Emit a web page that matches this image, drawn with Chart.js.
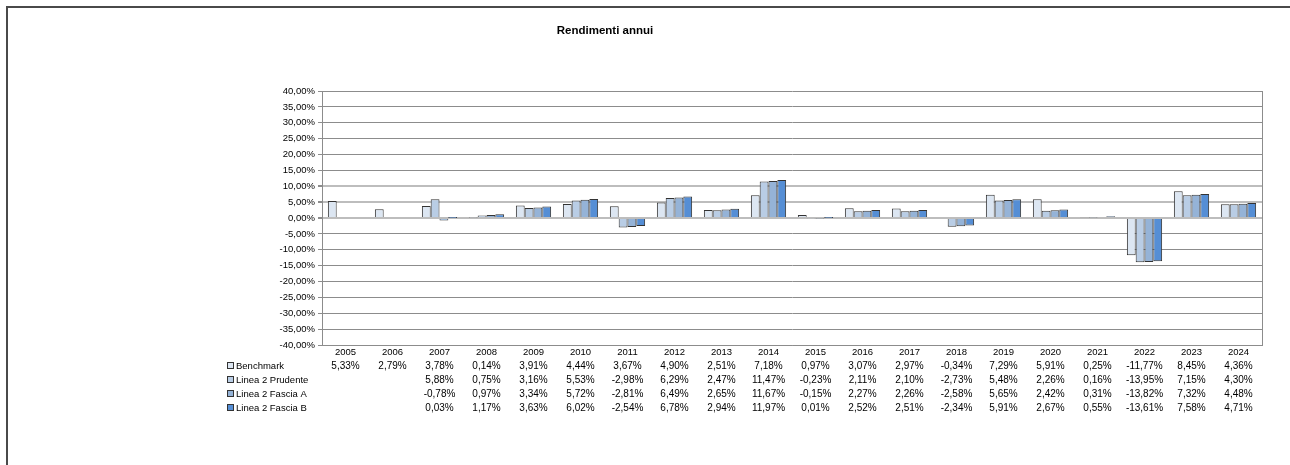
<!DOCTYPE html>
<html>
<head>
<meta charset="utf-8">
<script src="https://cdn.jsdelivr.net/npm/chart.js@4"></script>
<style>
html,body{margin:0;padding:0;background:#fff;overflow:hidden;}
canvas{display:block;}
</style>
</head>
<body>
<canvas id="c" width="1290" height="465"></canvas>
<script>
const years = ['2005','2006','2007','2008','2009','2010','2011','2012','2013','2014','2015','2016','2017','2018','2019','2020','2021','2022','2023','2024'];
const seriesNames = ['Benchmark','Linea 2 Prudente','Linea 2 Fascia A','Linea 2 Fascia B'];
const benchmark = [5.33,2.79,3.78,0.14,3.91,4.44,3.67,4.90,2.51,7.18,0.97,3.07,2.97,-0.34,7.29,5.91,0.25,-11.77,8.45,4.36];
const prudente = [null,null,5.88,0.75,3.16,5.53,-2.98,6.29,2.47,11.47,-0.23,2.11,2.10,-2.73,5.48,2.26,0.16,-13.95,7.15,4.30];
const fasciaA = [null,null,-0.78,0.97,3.34,5.72,-2.81,6.49,2.65,11.67,-0.15,2.27,2.26,-2.58,5.65,2.42,0.31,-13.82,7.32,4.48];
const fasciaB = [null,null,0.03,1.17,3.63,6.02,-2.54,6.78,2.94,11.97,0.01,2.52,2.51,-2.34,5.91,2.67,0.55,-13.61,7.58,4.71];
const colors = ['#dce6f2','#b9cde5','#95b3d7','#558ed5'];
const yMin = -40, yMax = 40, yStep = 5;

const FONT = '"Liberation Sans", Arial, sans-serif';
const fmt = v => v.toFixed(2).replace('.', ',') + '%';

const allSeries = [benchmark, prudente, fasciaA, fasciaB];

const decor = {
  id: 'decor',
  beforeDraw(chart) {
    const ctx = chart.ctx;
    ctx.save();
    ctx.fillStyle = '#fff';
    ctx.fillRect(0, 0, chart.width, chart.height);
    ctx.restore();
  },
  afterDraw(chart) {
    const ctx = chart.ctx;
    const area = chart.chartArea;
    const x = chart.scales.x;
    ctx.save();
    // outer frame
    ctx.strokeStyle = '#4a4a4a';
    ctx.lineWidth = 2;
    ctx.beginPath();
    ctx.moveTo(7, chart.height);
    ctx.lineTo(7, 7);
    ctx.lineTo(chart.width, 7);
    ctx.stroke();
    // plot right border
    ctx.strokeStyle = '#8c8c8c';
    ctx.lineWidth = 1;
    ctx.beginPath();
    ctx.moveTo(Math.round(area.right) + 0.5, area.top);
    ctx.lineTo(Math.round(area.right) + 0.5, area.bottom);
    ctx.stroke();
    // title
    ctx.fillStyle = '#000';
    ctx.font = 'bold 11.5px ' + FONT;
    ctx.textAlign = 'center';
    ctx.textBaseline = 'middle';
    ctx.fillText('Rendimenti annui', 605, 31);
    // data table
    const rowY = [366, 380, 394, 408];
    allSeries.forEach((s, si) => {
      const y = rowY[si];
      // legend key
      ctx.fillStyle = colors[si];
      ctx.fillRect(227.5, y - 3.5, 6, 6);
      ctx.strokeStyle = '#333';
      ctx.lineWidth = 1;
      ctx.strokeRect(227.5, y - 3.5, 6, 6);
      ctx.fillStyle = '#000';
      ctx.font = '9.5px ' + FONT;
      ctx.textAlign = 'left';
      ctx.fillText(seriesNames[si], 236, y);
      ctx.textAlign = 'center';
      ctx.font = '10px ' + FONT;
      s.forEach((v, i) => {
        if (v === null) return;
        ctx.fillText(fmt(v), x.getPixelForValue(i), y);
      });
    });
    ctx.restore();
  }
};

const lightTicks = [0, 5, 10];

new Chart(document.getElementById('c'), {
  type: 'bar',
  data: {
    labels: years,
    datasets: allSeries.map((s, i) => ({
      label: seriesNames[i],
      data: s,
      backgroundColor: colors[i],
      borderColor: '#333',
      borderWidth: 1,
      categoryPercentage: 0.75,
      barPercentage: 1.0
    }))
  },
  options: {
    responsive: false,
    animation: false,
    layout: { padding: { left: 0, right: 28, top: 91, bottom: 0 } },
    plugins: { legend: { display: false }, title: { display: false }, tooltip: { enabled: false } },
    scales: {
      x: {
        grid: { display: false, drawTicks: false },
        border: { display: true, color: '#8c8c8c' },
        ticks: { color: '#000', font: { family: FONT, size: 9.5 }, padding: 2, maxRotation: 0, autoSkip: false },
        afterFit(scale) { scale.height = 120; }
      },
      y: {
        min: yMin, max: yMax,
        ticks: { stepSize: yStep, color: '#000', font: { family: FONT, size: 9.5 }, padding: 3, callback: v => fmt(v) },
        grid: {
          color: ctx => (ctx.tick && lightTicks.includes(ctx.tick.value)) ? '#bdbdbd' : '#8c8c8c',
          lineWidth: ctx => (ctx.tick && lightTicks.includes(ctx.tick.value)) ? 2 : 1,
          tickColor: '#8c8c8c', tickLength: 4, drawTicks: true
        },
        border: { display: true, color: '#8c8c8c' },
        afterFit(scale) { scale.width = 322; }
      }
    }
  },
  plugins: [decor]
});
</script>
</body>
</html>
